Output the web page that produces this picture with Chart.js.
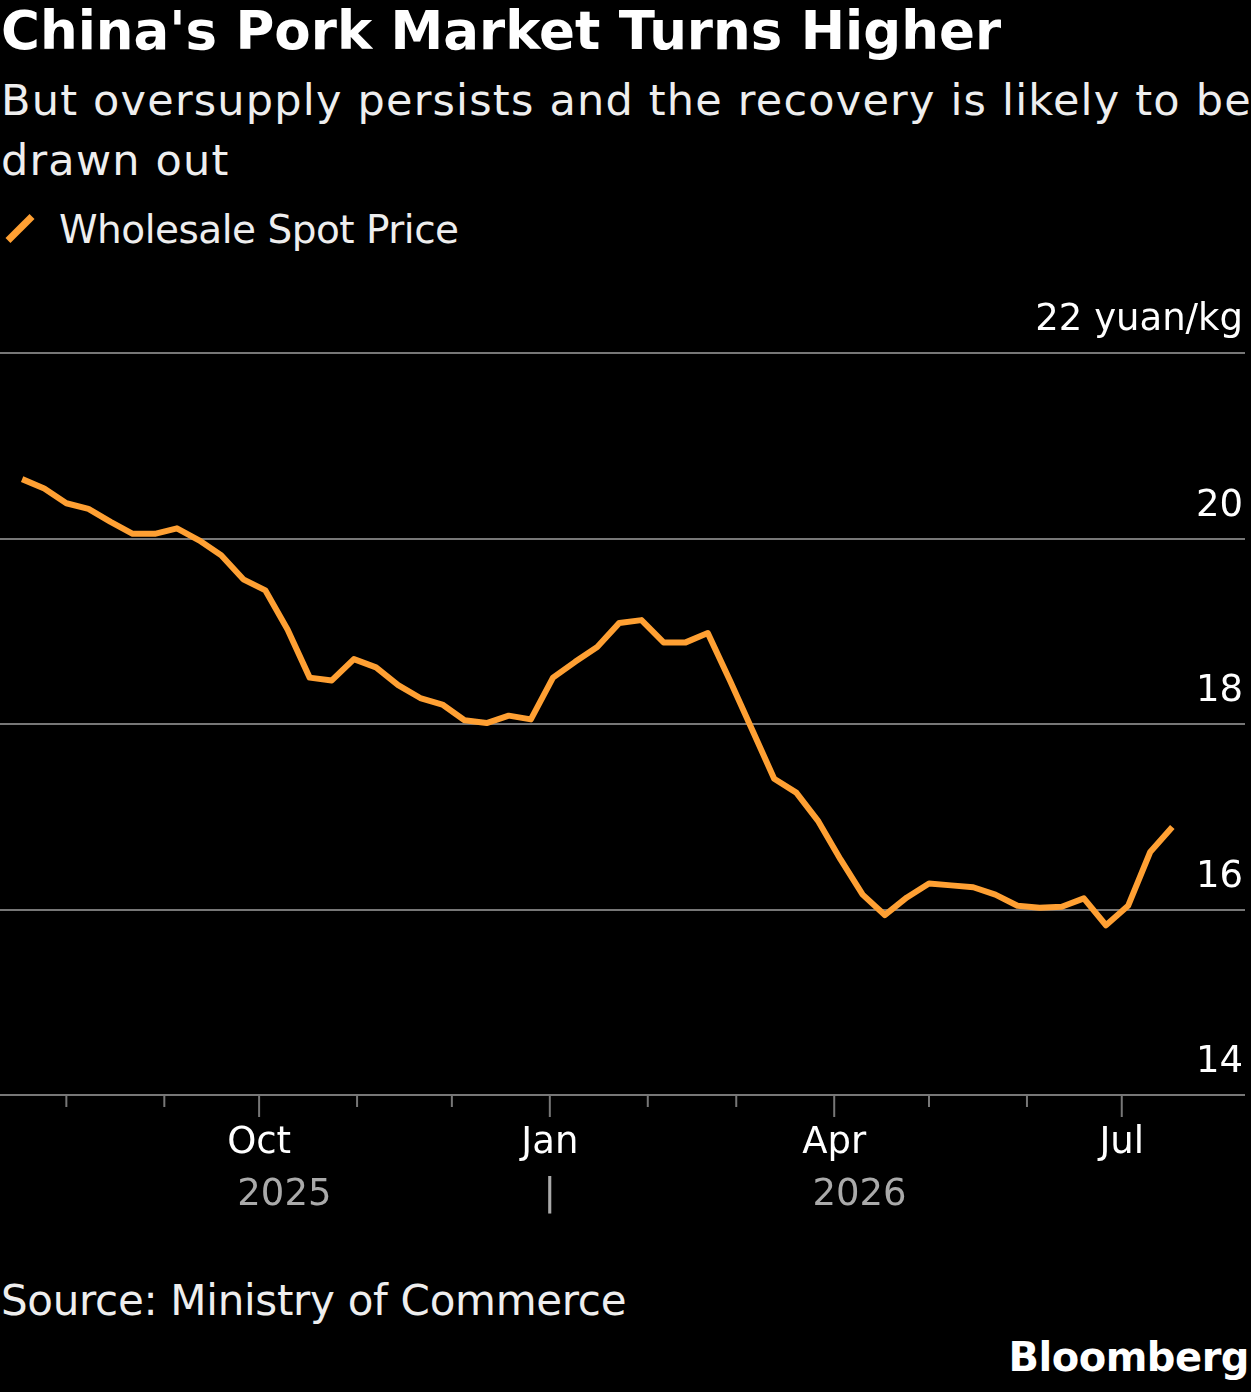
<!DOCTYPE html>
<html><head><meta charset="utf-8">
<script src="https://cdn.jsdelivr.net/npm/chart.js@4"></script>
<style>
body{margin:0;background:#000;width:1251px;height:1392px;position:relative;overflow:hidden;font-family:"DejaVu Sans",sans-serif;color:#fff}
.t{position:absolute;left:1px;white-space:nowrap}
#title{top:0px;font-size:53px;font-weight:bold}
#sub{top:70px;font-size:43px;line-height:60px;color:#eee;white-space:normal;width:1251px;letter-spacing:1.2px}
#leg{top:207px;font-size:39px;color:#eee;letter-spacing:-0.5px}
#leg span{display:inline-block;width:34px;height:7px;background:#ffa033;transform:rotate(-45deg);margin:0 22px 8px 2px;vertical-align:middle}
#src{top:1276px;font-size:42px;color:#eee;letter-spacing:-0.3px}
#bb{top:1334px;right:2px;left:auto;font-size:40px;font-weight:bold;letter-spacing:-0.5px}
#wrap{position:absolute;left:0;top:280px;width:1251px;height:960px}
</style></head><body>
<div class="t" id="title">China's Pork Market Turns Higher</div>
<div class="t" id="sub">But oversupply persists and the recovery is likely to be drawn out</div>
<div class="t" id="leg"><span></span>Wholesale Spot Price</div>
<div class="t" id="src">Source: Ministry of Commerce</div>
<div class="t" id="bb">Bloomberg</div>
<div id="wrap"><canvas id="c"></canvas></div>
<script>
const startDay=-75, stepDays=7; // days relative to 2025-10-01
const prices=[20.64,20.54,20.38,20.32,20.18,20.05,20.05,20.11,19.98,19.82,19.56,19.44,19.02,18.50,18.47,18.70,18.61,18.42,18.28,18.21,18.04,18.01,18.09,18.05,18.50,18.67,18.83,19.09,19.12,18.88,18.88,18.98,18.47,17.94,17.41,17.26,16.95,16.54,16.16,15.94,16.13,16.28,16.26,16.24,16.16,16.04,16.02,16.03,16.12,15.83,16.04,16.62,16.89];
const yTicks=[14,16,18,20,22];
const yTickLabels=["14","16","18","20","22 yuan/kg"];
const monthDays=[-61,-30,0,31,61,92,123,151,182,212,243,273];
const majorDays=[0,92,182,273];
const majorLabels=["Oct","Jan","Apr","Jul"];
const years=[{d:8,l:"2025"},{d:92,l:"|"},{d:190,l:"2026"}];
const pts=prices.map((v,i)=>({x:startDay+i*stepDays,y:v}));
const axisPlugin={id:'ax',beforeDatasetsDraw(ch){
 const c=ch.ctx,x=ch.scales.x,y=ch.scales.y;
 c.save();c.strokeStyle='#777';c.lineWidth=2;
 yTicks.forEach(v=>{const p=Math.round(y.getPixelForValue(v));c.beginPath();c.moveTo(0,p);c.lineTo(1245,p);c.stroke();});
 c.fillStyle='#fff';c.font='37px "DejaVu Sans"';c.textAlign='right';c.textBaseline='bottom';
 yTicks.forEach((v,i)=>c.fillText(yTickLabels[i],1243,y.getPixelForValue(v)-14));
 const b=y.getPixelForValue(14);
 monthDays.forEach(d=>{const p=x.getPixelForValue(d);const maj=majorDays.includes(d);c.beginPath();c.moveTo(p,b);c.lineTo(p,b+(maj?22:12));c.stroke();});
 c.textAlign='center';c.textBaseline='top';c.fillStyle='#fff';
 majorDays.forEach((d,i)=>c.fillText(majorLabels[i],x.getPixelForValue(d),b+30));
 c.fillStyle='#aaa';
 years.forEach(o=>c.fillText(o.l,x.getPixelForValue(o.d),b+82));
 c.restore();}};
new Chart(document.getElementById('c'),{type:'line',
 data:{datasets:[{data:pts,borderColor:'#ffa033',borderWidth:6,pointRadius:0,tension:0,borderJoinStyle:'round'}]},
 options:{responsive:true,maintainAspectRatio:false,animation:false,
  layout:{padding:{left:0,right:6,top:73,bottom:145}},
  plugins:{legend:{display:false},tooltip:{enabled:false}},
  scales:{x:{type:'linear',min:-82,max:312,display:false},y:{min:14,max:22,display:false}}},
 plugins:[axisPlugin]});
</script></body></html>
